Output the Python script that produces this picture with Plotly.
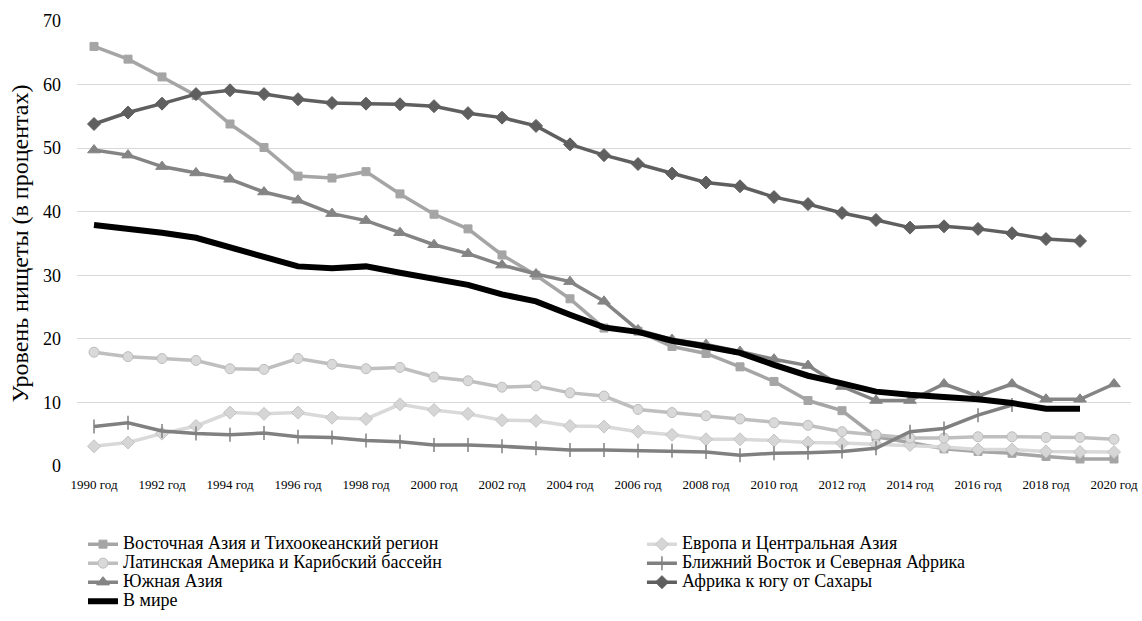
import plotly.graph_objects as go

years = list(range(1990, 2021))
tick_years = list(range(1990, 2021, 2))
tick_labels = [f"{y} год" for y in tick_years]

east_asia = [66.0, 64.0, 61.2, 58.3, 53.8, 50.1, 45.6, 45.3, 46.3, 42.8, 39.6, 37.3, 33.2, 30.0, 26.3, 21.7,
             21.2, 18.8, 17.7, 15.6, 13.3, 10.3, 8.7, 4.6, 3.7, 2.7, 2.3, 2.0, 1.5, 1.1, 1.1]
europe = [3.1, 3.7, 5.1, 6.3, 8.4, 8.2, 8.4, 7.6, 7.4, 9.7, 8.8, 8.2, 7.2, 7.1, 6.3, 6.2,
          5.4, 4.9, 4.2, 4.2, 4.0, 3.7, 3.6, 3.4, 3.3, 3.0, 2.6, 2.6, 2.3, 2.2, 2.2]
latin = [17.9, 17.2, 16.9, 16.6, 15.3, 15.2, 16.9, 16.0, 15.3, 15.5, 14.0, 13.4, 12.4, 12.6, 11.5, 11.0,
         8.9, 8.4, 7.9, 7.4, 6.8, 6.4, 5.4, 4.9, 4.4, 4.4, 4.6, 4.6, 4.5, 4.5, 4.2]
mena = [6.2, 6.8, 5.5, 5.1, 4.9, 5.2, 4.6, 4.5, 4.0, 3.8, 3.3, 3.3, 3.1, 2.8, 2.5, 2.5,
        2.4, 2.4, 2.2, 1.7, 2.0, 2.1, 2.3, 2.8, 5.4, 5.9, 8.0, 9.6, None, None, None]
south_asia = [49.7, 48.9, 47.1, 46.1, 45.1, 43.1, 41.8, 39.7, 38.6, 36.7, 34.8, 33.4, 31.6, 30.2, 29.0, 25.9,
              21.4, 19.9, 19.1, 18.0, 16.8, 15.8, 12.5, 10.3, 10.3, 12.9, 11.0, 12.9, 10.5, 10.5, 12.9]
ssa = [53.8, 55.6, 57.0, 58.5, 59.1, 58.5, 57.7, 57.1, 57.0, 56.9, 56.6, 55.5, 54.8, 53.5, 50.6, 48.9,
       47.5, 46.0, 44.6, 44.0, 42.3, 41.2, 39.8, 38.7, 37.5, 37.7, 37.3, 36.6, 35.7, 35.4, None]
world = [37.9, 37.4, 36.7, 35.9, 34.4, 32.9, 31.4, 31.1, 31.4, 30.4, 29.4, 28.5, 27.0, 25.9, 23.8, 21.8,
         21.1, 19.7, 18.8, 17.8, 15.9, 14.2, 13.0, 11.7, 11.2, 10.9, 10.5, 9.9, 9.0, 9.0, None]

names = ["Восточная Азия и Тихоокеанский регион", "Европа и Центральная Азия",
         "Латинская Америка и Карибский бассейн", "Ближний Восток и Северная Африка",
         "Южная Азия", "Африка к югу от Сахары", "В мире"]

fig = go.Figure()


def add(vals, name, legend, lcolor, width, symbol=None, size=8, mfill=None, medge=None, mlw=1):
    mode = "lines+markers" if symbol else "lines"
    marker = None
    if symbol:
        marker = dict(symbol=symbol, size=size, color=mfill or lcolor,
                      line=dict(color=medge or lcolor, width=mlw))
    fig.add_trace(go.Scatter(x=years, y=vals, mode=mode, legend=legend,
                             name=f'<span style="font-size:18px">{name}</span>',
                             line=dict(color=lcolor, width=width),
                             marker=marker, connectgaps=False))


add(east_asia, names[0], "legend", "#A5A5A5", 3.5, "square", 8)
add(europe, names[1], "legend2", "#D9D9D9", 3.5, "diamond", 10, "#D6D6D6", "#C4C4C4", 1)
add(latin, names[2], "legend", "#BFBFBF", 3.5, "circle", 10, "#D9D9D9", "#BDBDBD", 1)
add(mena, names[3], "legend2", "#808080", 3.5, "line-ns", 10, "#808080", "#808080", 1.5)
add(south_asia, names[4], "legend", "#848484", 3.5, "triangle-up", 11)
add(ssa, names[5], "legend2", "#5F5F5F", 3.5, "diamond", 10)
add(world, names[6], "legend", "#000000", 6)

font_family = "Liberation Serif, Times New Roman, serif"

legend_common = dict(orientation="v", xanchor="left", yanchor="top",
                     font=dict(size=12, family=font_family, color="#000000"),
                     itemwidth=30, tracegroupgap=0, bgcolor="rgba(0,0,0,0)",
                     traceorder="normal")

fig.update_layout(
    width=1142, height=621,
    margin=dict(l=77, r=11, t=21, b=155, autoexpand=False),
    plot_bgcolor="white", paper_bgcolor="white",
    font=dict(family=font_family, color="#000000"),
    showlegend=True,
    legend=dict(x=0.0057, y=-0.143, **legend_common),
    legend2=dict(x=0.536, y=-0.143, **legend_common),
    xaxis=dict(range=[1989.5, 2020.5], tickvals=tick_years, ticktext=tick_labels,
               showgrid=False, zeroline=False, showline=False, ticks="",
               automargin=False, ticklabelstandoff=9,
               tickfont=dict(size=13, family=font_family)),
    yaxis=dict(range=[0, 70], dtick=10, showgrid=True, gridcolor="#D9D9D9", gridwidth=1,
               zeroline=False, showline=False, ticks="",
               automargin=False, ticklabelstandoff=15,
               tickfont=dict(size=18, family=font_family),
               title=dict(text="Уровень нищеты (в процентах)", font=dict(size=24, family=font_family),
                          standoff=7)),
)

fig.write_html("out.html", config={"displayModeBar": False},
               post_script="document.body.style.margin='0px';document.body.style.overflow='hidden';")
